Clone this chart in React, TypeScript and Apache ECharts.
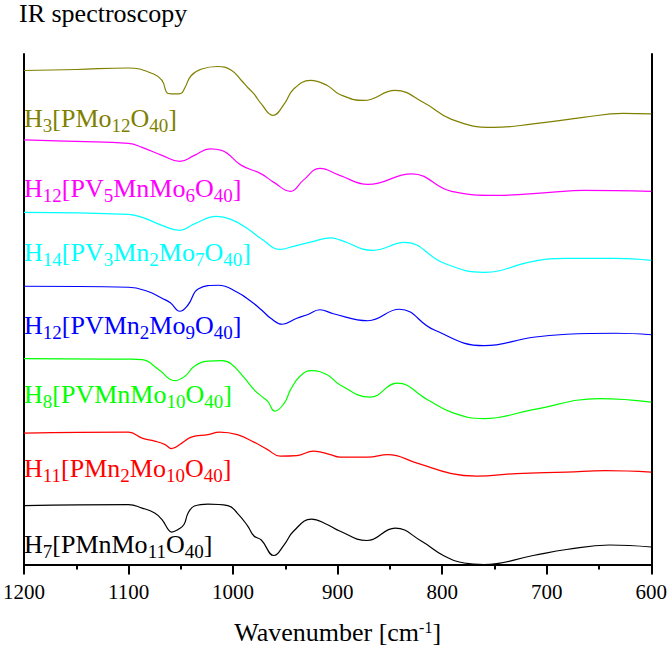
import { useEffect, useRef } from 'react';
import * as echarts from 'echarts';

const FONT = 'Liberation Serif, Times New Roman, serif';

const labels = [
  'H_3[PMo_12O_40]',
  'H_12[PV_5MnMo_6O_40]',
  'H_14[PV_3Mn_2Mo_7O_40]',
  'H_12[PVMn_2Mo_9O_40]',
  'H_8[PVMnMo_10O_40]',
  'H_11[PMn_2Mo_10O_40]',
  'H_7[PMnMo_11O_40]',
];
const colors = ['#808000', '#ff00ff', '#00ffff', '#0000ff', '#00ff00', '#ff0000', '#000000'];

// wavenumber (cm-1) and stacked transmittance (a.u.)
const pmo12Wn = [1200, 1150, 1100, 1076, 1068, 1062, 1055, 1050, 1046, 1040, 1030, 1015, 1002, 992, 986, 980, 973, 962, 951, 942, 926, 910, 898, 875, 845, 817, 791, 751, 713, 665, 627, 600];
const pmo12T = [98.9, 99.1, 99.4, 98.2, 96.9, 94.3, 94.2, 94.3, 95.5, 97.9, 99.2, 99.7, 99.0, 96.9, 95.5, 94.2, 92.2, 89.9, 92.2, 95.2, 96.9, 95.9, 94.1, 92.9, 94.9, 92.4, 89.1, 87.5, 88.2, 89.5, 90.3, 90.2];

const pv5Wn = [1200, 1150, 1100, 1087, 1068, 1051, 1037, 1022, 1011, 992, 973, 961, 945, 933, 917, 898, 871, 829, 791, 748, 697, 665, 600];
const pv5T = [85.0, 84.7, 84.3, 83.5, 81.9, 80.7, 81.9, 83.2, 82.9, 79.9, 78.2, 76.5, 74.7, 76.9, 79.3, 77.9, 76.1, 78.2, 74.7, 73.9, 74.5, 74.9, 74.7];

const pv3Wn = [1200, 1100, 1087, 1068, 1051, 1037, 1016, 1002, 986, 973, 955, 942, 923, 907, 898, 866, 836, 798, 760, 713, 681, 634, 600];
const pv3T = [70.5, 70.1, 69.5, 67.9, 66.9, 68.2, 69.7, 69.1, 67.2, 65.2, 63.1, 63.7, 64.7, 65.4, 65.0, 62.9, 64.5, 60.3, 58.5, 60.7, 61.3, 61.3, 60.9];

const pvmn2Wn = [1200, 1100, 1082, 1068, 1060, 1051, 1043, 1033, 1014, 996, 983, 973, 964, 953, 939, 929, 917, 904, 871, 841, 808, 760, 713, 681, 634, 600];
const pvmn2T = [55.7, 55.5, 54.7, 53.3, 52.4, 50.7, 52.0, 55.2, 55.9, 54.5, 52.7, 51.0, 49.3, 48.1, 49.3, 50.0, 51.0, 50.2, 48.8, 51.1, 47.0, 43.8, 45.5, 46.1, 46.3, 46.0];

const pvmnWn = [1200, 1100, 1087, 1071, 1056, 1046, 1037, 1024, 1011, 1002, 989, 980, 973, 967, 960, 951, 945, 936, 925, 910, 898, 869, 843, 814, 789, 760, 713, 649, 600];
const pvmnT = [41.2, 41.1, 41.0, 39.0, 36.8, 37.7, 39.7, 40.7, 40.8, 40.2, 37.3, 35.0, 33.7, 32.7, 30.7, 32.3, 35.0, 37.7, 38.8, 38.0, 36.0, 33.5, 36.3, 33.0, 30.3, 29.2, 31.0, 33.2, 32.5];

const pmn2Wn = [1200, 1100, 1087, 1075, 1065, 1059, 1049, 1040, 1024, 1013, 996, 980, 967, 955, 939, 923, 907, 898, 871, 852, 824, 791, 767, 729, 681, 644, 600];
const pmn2T = [26.3, 26.5, 25.3, 24.7, 24.0, 23.2, 24.3, 25.5, 26.0, 26.5, 26.0, 24.5, 23.0, 21.7, 21.8, 22.7, 22.0, 21.5, 21.5, 22.0, 20.3, 18.2, 17.7, 18.2, 18.5, 18.8, 18.5];

const pmnWn = [1200, 1100, 1087, 1075, 1068, 1062, 1059, 1052, 1047, 1043, 1037, 1024, 1005, 996, 986, 980, 973, 961, 951, 942, 925, 910, 898, 872, 845, 820, 798, 779, 760, 713, 681, 640, 600];
const pmnT = [11.8, 12.0, 11.3, 10.3, 9.0, 7.0, 6.5, 7.1, 8.0, 10.3, 11.7, 12.1, 11.8, 10.3, 7.7, 5.7, 4.9, 1.8, 4.0, 6.7, 9.1, 8.0, 6.7, 4.8, 7.3, 4.7, 1.7, 0.3, 0.0, 1.8, 3.0, 3.9, 3.5];

const spectra = [
  [pmo12Wn, pmo12T],
  [pv5Wn, pv5T],
  [pv3Wn, pv3T],
  [pvmn2Wn, pvmn2T],
  [pvmnWn, pvmnT],
  [pmn2Wn, pmn2T],
  [pmnWn, pmnT],
];

// vertical position of each formula label (px)
const labelY = [118, 188, 252, 325, 394, 468, 544];

const toRich = (f: string) =>
  f.split(/_(\d+)/).map((p, i) => (p ? (i % 2 ? `{s|${p}}` : `{b|${p}}`) : '')).join('');

const App = () => {
  const chartRef = useRef(null);

  useEffect(() => {
    document.body.style.margin = '0';
    if (!chartRef.current) return;
    const myChart = echarts.init(chartRef.current, null, { renderer: 'svg' });

    const frameLine = { show: true, lineStyle: { color: '#000', width: 2 } };

    const option = {
      animation: false,
      textStyle: { fontFamily: FONT },
      grid: { left: 21, right: 16, top: 54, bottom: 85 },
      xAxis: [
        {
          type: 'value',
          min: 600,
          max: 1200,
          interval: 100,
          inverse: true,
          axisLine: frameLine,
          axisTick: { show: true, length: 10, lineStyle: { color: '#000', width: 2 } },
          minorTick: { show: true, splitNumber: 2, length: 5, lineStyle: { color: '#000', width: 2 } },
          axisLabel: {
            fontSize: 21,
            fontFamily: FONT,
            color: '#000',
            margin: 17,
            lineHeight: 21,
            formatter: (v: number) => String(v),
          },
          splitLine: { show: false },
          name: '{t|Wavenumber [cm}{p|-1}{t|]}',
          nameLocation: 'middle',
          nameGap: 55,
          nameTextStyle: {
            rich: {
              t: { fontSize: 26, fontFamily: FONT, color: '#000', lineHeight: 25 },
              p: { fontSize: 16, fontFamily: FONT, color: '#000', lineHeight: 16, verticalAlign: 'top' },
            },
          },
        },
        {
          type: 'value',
          position: 'top',
          min: 600,
          max: 1200,
          inverse: true,
          axisLine: frameLine,
          axisTick: { show: false },
          axisLabel: { show: false },
          splitLine: { show: false },
        },
      ],
      yAxis: [
        {
          type: 'value',
          min: 0,
          max: 102.2,
          axisLine: frameLine,
          axisTick: { show: false },
          axisLabel: { show: false },
          splitLine: { show: false },
        },
        {
          type: 'value',
          position: 'right',
          min: 0,
          max: 102.2,
          axisLine: frameLine,
          axisTick: { show: false },
          axisLabel: { show: false },
          splitLine: { show: false },
        },
      ],
      series: spectra.map(([wn, t], i) => ({
        name: labels[i],
        type: 'line',
        data: wn.map((w, k) => [w, t[k]]),
        showSymbol: false,
        symbol: 'none',
        smooth: 0.45,
        lineStyle: { color: colors[i], width: 1.2 },
        itemStyle: { color: colors[i] },
        z: 3,
      })),
      graphic: [
        {
          type: 'text',
          x: 19,
          y: 13,
          style: {
            text: 'IR spectroscopy',
            fontSize: 26,
            fontFamily: FONT,
            fill: '#000',
            verticalAlign: 'middle',
          },
        },
        ...labels.map((l, i) => ({
          type: 'text',
          x: 24,
          y: labelY[i],
          style: {
            text: toRich(l),
            fill: colors[i],
            fontFamily: FONT,
            verticalAlign: 'middle',
            rich: {
              b: { fontSize: 26, fontFamily: FONT, lineHeight: 34 },
              s: { fontSize: 19, fontFamily: FONT, lineHeight: 19, verticalAlign: 'bottom' },
            },
          },
        })),
      ],
    };

    myChart.setOption(option);

    return () => {
      myChart.dispose();
    };
  }, []);

  return <div ref={chartRef} style={{ width: '670px', height: '650px' }} />;
};

export default App;
